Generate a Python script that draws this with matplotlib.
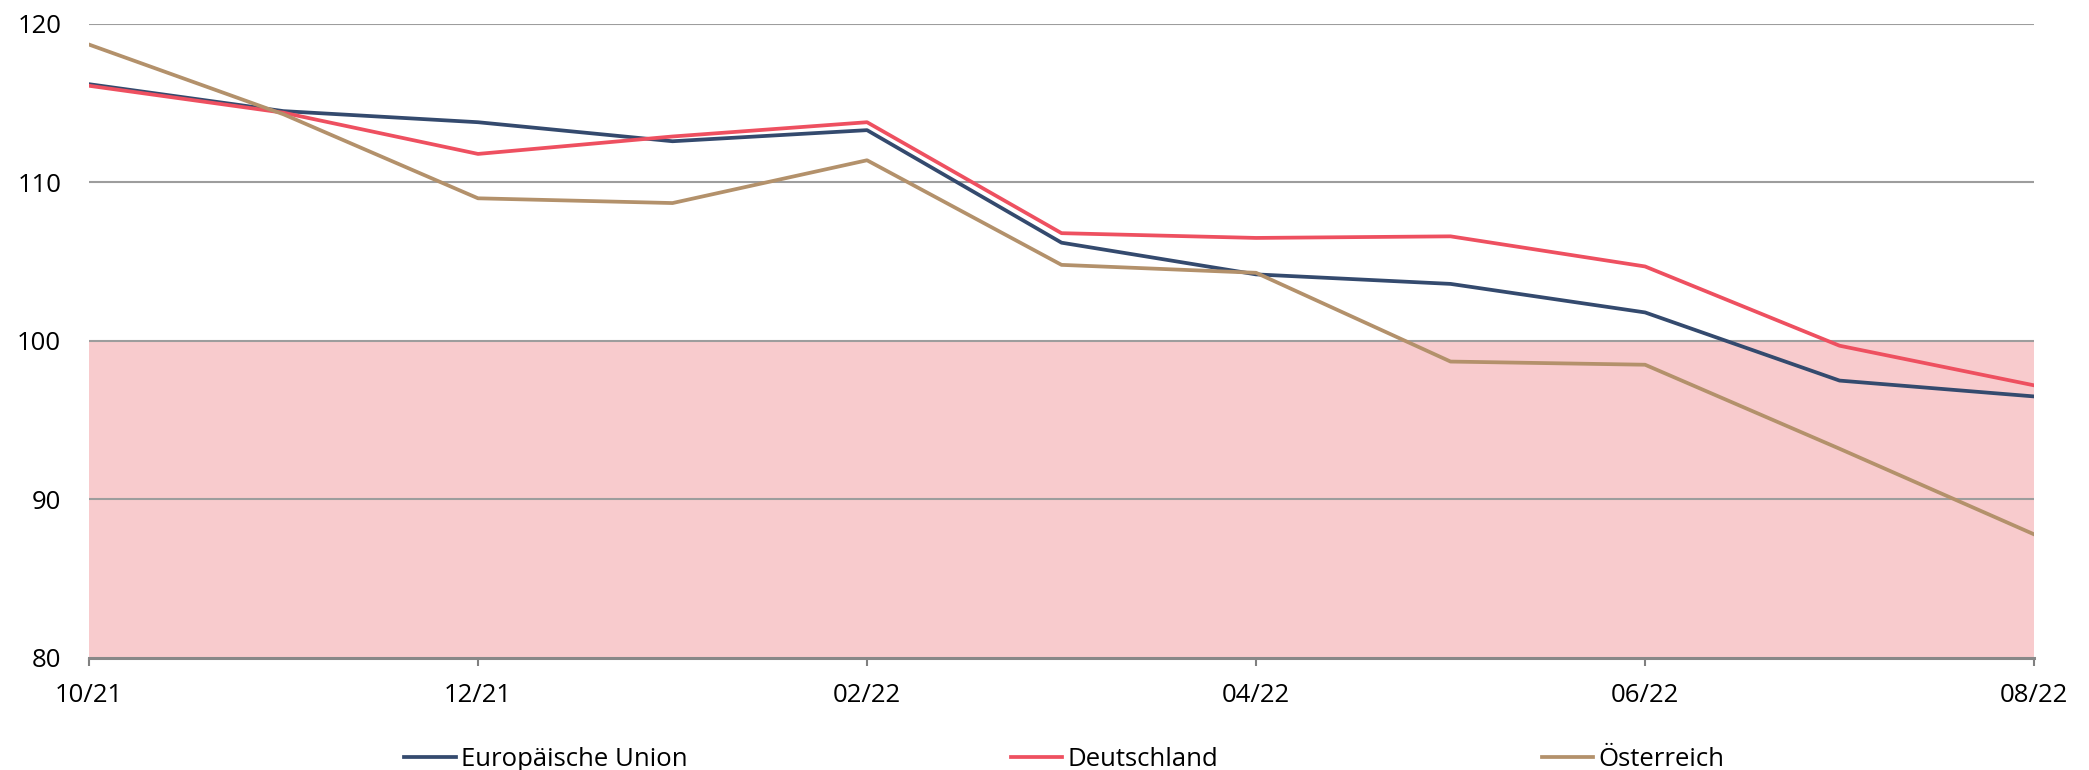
import matplotlib.pyplot as plt
import numpy as np

# Monatswerte 10/21 - 08/22
months = ["10/21", "11/21", "12/21", "01/22", "02/22", "03/22",
          "04/22", "05/22", "06/22", "07/22", "08/22"]
eu = [116.2, 114.5, 113.8, 112.6, 113.3, 106.2, 104.2, 103.6, 101.8, 97.5, 96.5]
de = [116.1, 114.4, 111.8, 112.9, 113.8, 106.8, 106.5, 106.6, 104.7, 99.7, 97.2]
at = [118.7, 114.3, 109.0, 108.7, 111.4, 104.8, 104.3, 98.7, 98.5, 93.2, 87.8]
tick_labels = ["10/21", "12/21", "02/22", "04/22", "06/22", "08/22"]

plt.rcParams['font.family'] = ['Open Sans', 'DejaVu Sans']

fig = plt.figure(figsize=(20.89, 7.70), dpi=100)
ax = fig.add_axes([0.0426, 0.1455, 0.9311, 0.8234])

x = np.arange(len(months))
ax.axhspan(80, 100, color='#f8cbcd', zorder=0, lw=0)
for y in [90, 100, 110, 120]:
    ax.axhline(y, color='#9d9d9d', lw=1.5, zorder=1)

ax.plot(x, eu, color='#344a6e', lw=2.7, label='Europäische Union', zorder=3)
ax.plot(x, de, color='#ee5060', lw=2.7, label='Deutschland', zorder=3)
ax.plot(x, at, color='#b3916b', lw=2.7, label='Österreich', zorder=3)

ax.set_xlim(0, len(months) - 1)
ax.set_ylim(80, 120)
ax.set_yticks([80, 90, 100, 110, 120])
ax.set_xticks(x[::2])
ax.set_xticklabels(tick_labels)
ax.tick_params(axis='y', length=0, pad=20, labelsize=18.5)
ax.tick_params(axis='x', length=6, width=1.5, color='#808080', pad=12, labelsize=18.5)

for s in ['top', 'right', 'left']:
    ax.spines[s].set_visible(False)
ax.spines['bottom'].set_color('#888888')
ax.spines['bottom'].set_linewidth(2.2)

fig.legend(loc='lower center', bbox_to_anchor=(0.5095, -0.006), ncol=3, frameon=False,
           fontsize=18.5, handlelength=2.0, handletextpad=0.2, columnspacing=12.6,
           borderaxespad=0.0, borderpad=0.1)

fig.savefig('out.png', dpi=100)
